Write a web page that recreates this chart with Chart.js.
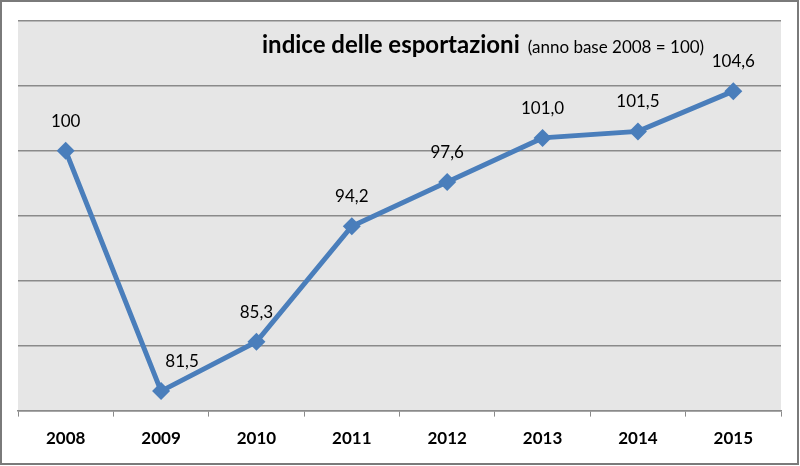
<!DOCTYPE html>
<html>
<head>
<meta charset="utf-8">
<script src="https://cdn.jsdelivr.net/npm/chart.js@4/dist/chart.umd.min.js"></script>
<style>
  body { margin: 0; background: #fff; }
  #wrap { width: 800px; height: 466px; }
</style>
</head>
<body>
<div id="wrap"><canvas id="export"></canvas></div>
<script>
// anni e indice (2008 = 100)
var years = ['2008', '2009', '2010', '2011', '2012', '2013', '2014', '2015'];
var indexValues = [100, 81.5, 85.3, 94.2, 97.6, 101.0, 101.5, 104.6];
var valueLabels = ['100', '81,5', '85,3', '94,2', '97,6', '101,0', '101,5', '104,6'];
var yMin = 80, yMax = 110, yStep = 5;

var FONT = 'Lato, "Open Sans", sans-serif';

// sfondo bianco, bordo esterno e area grigia
var backdrop = {
  id: 'backdrop',
  beforeDraw: function(chart) {
    var ctx = chart.ctx, a = chart.chartArea;
    ctx.save();
    ctx.fillStyle = '#ffffff';
    ctx.fillRect(0, 0, chart.width, chart.height);
    ctx.fillStyle = '#e6e6e6';
    ctx.fillRect(a.left, a.top, a.right - a.left, a.bottom - a.top);
    ctx.strokeStyle = '#7a7a7a';
    ctx.lineWidth = 2;
    ctx.strokeRect(1, 1, chart.width - 3, chart.height - 3);
    ctx.restore();
  }
};

// titolo dentro il grafico + etichette dei valori
var texts = {
  id: 'texts',
  afterDatasetsDraw: function(chart) {
    var ctx = chart.ctx;
    ctx.save();
    ctx.fillStyle = '#000';
    ctx.textBaseline = 'alphabetic';
    ctx.textAlign = 'left';
    ctx.font = 'bold 24px ' + FONT;
    var t1 = 'indice delle esportazioni';
    ctx.fillText(t1, 262, 53);
    var w = ctx.measureText(t1).width;
    ctx.font = '17px ' + FONT;
    ctx.fillText('(anno base 2008 = 100)', 262 + w + 8, 53);

    ctx.font = '17px ' + FONT;
    ctx.textAlign = 'center';
    var pts = chart.getDatasetMeta(0).data;
    pts.forEach(function(p, i) {
      var dx = (i === 1) ? 21 : 0;
      ctx.fillText(valueLabels[i], p.x + dx, p.y - 24);
    });
    ctx.restore();
  }
};

new Chart(document.getElementById('export'), {
  type: 'line',
  data: {
    labels: years,
    datasets: [{
      data: indexValues,
      borderColor: '#4a7ebb',
      backgroundColor: '#4a7ebb',
      borderWidth: 5,
      pointStyle: 'rectRot',
      pointRadius: 9,
      pointBorderWidth: 0,
      tension: 0
    }]
  },
  options: {
    responsive: true,
    maintainAspectRatio: false,
    animation: false,
    layout: { padding: { left: 18, right: 19, top: 21, bottom: 5 } },
    plugins: { legend: { display: false }, tooltip: { enabled: false } },
    scales: {
      x: {
        offset: true,
        grid: {
          offset: true,
          drawOnChartArea: false,
          drawTicks: true,
          tickLength: 6,
          color: '#8a8a8a'
        },
        border: { display: true, color: '#8a8a8a', width: 1.5 },
        ticks: {
          color: '#000',
          padding: 12,
          font: { family: FONT, size: 17, weight: 'bold' }
        }
      },
      y: {
        min: yMin,
        max: yMax,
        ticks: { display: false, stepSize: yStep },
        grid: { color: '#8a8a8a', lineWidth: 1.5, drawTicks: false },
        border: { display: false }
      }
    }
  },
  plugins: [backdrop, texts]
});
</script>
</body>
</html>
